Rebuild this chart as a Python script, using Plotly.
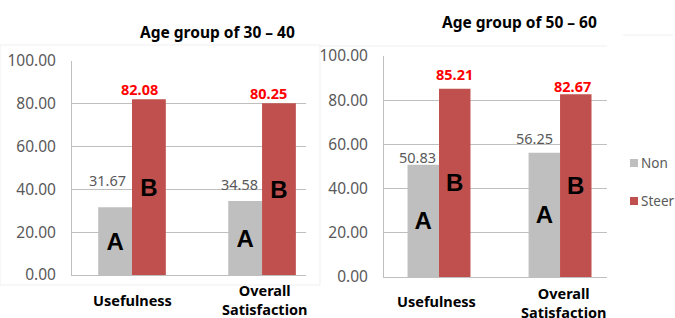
import plotly.graph_objects as go

# ---------------- data ----------------
categories = ["Usefulness", "Overall<br>Satisfaction"]
series_names = ["Non", "Steer"]
titles = ["Age group of 30 – 40", "Age group of 50 – 60"]
non_30_40 = [31.67, 34.58]
steer_30_40 = [82.08, 80.25]
non_50_60 = [50.83, 56.25]
steer_50_60 = [85.21, 82.67]
group_letters = ["A", "B"]
y_ticks = [0, 20, 40, 60, 80, 100]

# ---------------- style ----------------
W, H = 675, 318
GRAY = "#BFBFBF"
RED = "#C0504D"
TXT = "#595959"
FAINT = "#EFEFEF"
FONT = "Noto Sans"
BW = 0.26
series_colors = [GRAY, RED]

def px_x(p):
    return p / W

def px_y(p):
    return (H - p) / H

panels = [
    dict(non=non_30_40, steer=steer_30_40, title=titles[0], xa="x", ya="y",
         xdom=[px_x(72), px_x(306)], ydom=[px_y(275), px_y(61)],
         xrange=[-0.4615, 1.338], title_xy=(217, 32),
         cat_dx=[0.0, 0.02], cat_y=[300, 299],
         lab_dx=[[-0.19, -0.17], [0.054, 0.046]],
         lab_dy=[[27, 17], [10, 10]]),
    dict(non=non_50_60, steer=steer_50_60, title=titles[1], xa="x2", ya="y2",
         xdom=[px_x(384), px_x(607)], ydom=[px_y(277), px_y(56)],
         xrange=[-0.4545, 1.388], title_xy=(519, 22),
         cat_dx=[-0.02, 0.025], cat_y=[301, 302],
         lab_dx=[[-0.174, -0.215], [0.124, 0.107]],
         lab_dy=[[8, 15], [15, 8]]),
]

fig = go.Figure()
annotations = []
shapes = []
xpos = list(range(len(categories)))

# faint chart-area borders of the original pictures
shapes.append(dict(type="rect", xref="paper", yref="paper",
                   x0=px_x(0), x1=px_x(320), y0=px_y(285), y1=px_y(45),
                   line=dict(color=FAINT, width=1), layer="below"))
shapes.append(dict(type="line", xref="paper", yref="paper",
                   x0=px_x(320), x1=px_x(607), y0=px_y(46), y1=px_y(46),
                   line=dict(color=FAINT, width=1), layer="below"))
shapes.append(dict(type="line", xref="paper", yref="paper",
                   x0=px_x(623), x1=px_x(673), y0=px_y(35), y1=px_y(35),
                   line=dict(color=FAINT, width=1), layer="below"))

for i, p in enumerate(panels):
    for s, (vals, off) in enumerate([(p["non"], -BW), (p["steer"], 0.0)]):
        fig.add_trace(go.Bar(
            x=xpos, y=vals, name=series_names[s], marker_color=series_colors[s],
            marker_line_width=0, width=BW, offset=off,
            xaxis=p["xa"], yaxis=p["ya"],
            text=[group_letters[s]] * len(vals), textposition="inside",
            insidetextanchor="middle", textangle=0, constraintext="none",
            textfont=dict(family="Liberation Sans", size=24, color="black", weight="bold"),
            showlegend=False, hoverinfo="skip",
        ))
        # value labels
        for j, v in enumerate(vals):
            annotations.append(dict(
                x=xpos[j] + p["lab_dx"][s][j], y=v, xref=p["xa"], yref=p["ya"],
                text=f"{v:.2f}", showarrow=False, xanchor="center", yanchor="middle",
                yshift=p["lab_dy"][s][j],
                font=dict(family=FONT, size=14.5,
                          color=("#FF0000" if s == 1 else TXT),
                          weight=("bold" if s == 1 else "normal")),
            ))
    # category labels
    for j, c in enumerate(categories):
        annotations.append(dict(
            x=xpos[j] + p["cat_dx"][j], y=px_y(p["cat_y"][j]), xref=p["xa"], yref="paper",
            text=c, showarrow=False, xanchor="center", yanchor="middle",
            font=dict(family=FONT, size=14.5, color="black", weight="bold"),
        ))
    # title
    tx, ty = p["title_xy"]
    annotations.append(dict(
        x=px_x(tx), y=px_y(ty), xref="paper", yref="paper", text=p["title"],
        showarrow=False, xanchor="center", yanchor="middle",
        font=dict(family=FONT, size=15.5, color="black", weight="bold"),
    ))

# legend (drawn as swatch + text so it fits the right edge like the original)
legend_rows_y = [163, 201]
for s, name in enumerate(series_names):
    yc = legend_rows_y[s]
    shapes.append(dict(type="rect", xref="paper", yref="paper",
                       x0=px_x(630), x1=px_x(638), y0=px_y(yc + 4), y1=px_y(yc - 4),
                       fillcolor=series_colors[s], line=dict(width=0)))
    annotations.append(dict(
        x=px_x(639), y=px_y(yc), xref="paper", yref="paper", text=name,
        showarrow=False, xanchor="left", yanchor="middle",
        font=dict(family=FONT, size=13.5, color=TXT),
    ))

axis_common_x = dict(showgrid=False, showline=True, linecolor=GRAY, linewidth=1,
                     showticklabels=False, ticks="", zeroline=False, fixedrange=True,
                     automargin=False)
axis_common_y = dict(range=[0, 100], tickvals=y_ticks, tickformat=".2f",
                     showgrid=True, gridcolor=GRAY, gridwidth=1,
                     showline=True, linecolor=GRAY, linewidth=1, zeroline=False,
                     ticks="", ticklabelstandoff=12, automargin=False,
                     tickfont=dict(family=FONT, size=15.5, color=TXT))

fig.update_layout(
    width=W, height=H, margin=dict(l=0, r=0, t=0, b=0, autoexpand=False),
    paper_bgcolor="white", plot_bgcolor="white",
    barmode="overlay", showlegend=False,
    xaxis=dict(domain=panels[0]["xdom"], range=panels[0]["xrange"], anchor="y", **axis_common_x),
    yaxis=dict(domain=panels[0]["ydom"], anchor="x", **axis_common_y),
    xaxis2=dict(domain=panels[1]["xdom"], range=panels[1]["xrange"], anchor="y2", **axis_common_x),
    yaxis2=dict(domain=panels[1]["ydom"], anchor="x2", **axis_common_y),
    annotations=annotations,
    shapes=shapes,
)

fig.write_html(
    "out.html",
    config={"displayModeBar": False},
    post_script="document.body.style.margin='0';document.body.style.overflow='hidden';",
)
